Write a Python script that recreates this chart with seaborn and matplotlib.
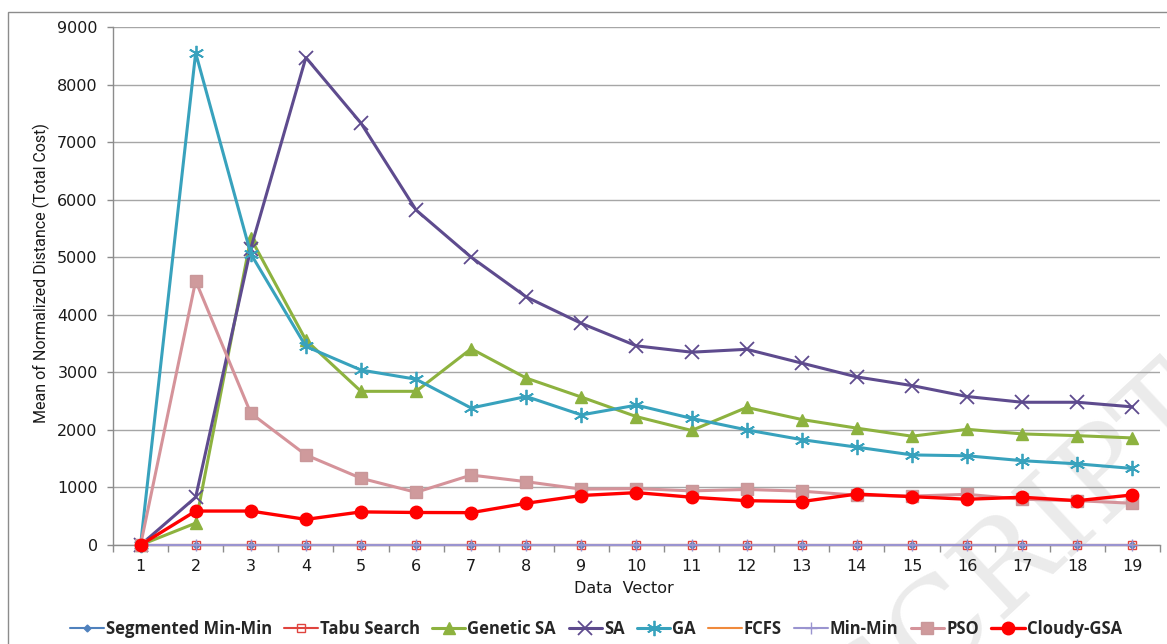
import matplotlib
matplotlib.use("Agg")
import matplotlib.pyplot as plt
import seaborn as sns
import pandas as pd
from matplotlib.patches import Rectangle
from matplotlib.ticker import MultipleLocator, FixedLocator

# --- data -------------------------------------------------------------
data_vector = list(range(1, 20))

segmented_min_min = [0] * 19
tabu_search = [0] * 19
genetic_sa = [0, 380, 5330, 3560, 2670, 2670, 3410, 2900, 2570, 2230, 1990,
              2390, 2180, 2030, 1890, 2010, 1930, 1900, 1860]
sa = [0, 830, 5150, 8470, 7330, 5820, 5000, 4310, 3850, 3460, 3350,
      3400, 3160, 2920, 2770, 2580, 2480, 2480, 2400]
ga = [0, 8550, 5060, 3450, 3040, 2880, 2380, 2580, 2260, 2430, 2200,
      2000, 1830, 1700, 1565, 1550, 1465, 1410, 1330]
fcfs = [0] * 19
min_min = [0] * 19
pso = [0, 4590, 2290, 1565, 1160, 915, 1215, 1100, 970, 980, 940,
       965, 935, 865, 850, 880, 795, 770, 725]
cloudy_gsa = [0, 590, 590, 445, 575, 565, 562, 725, 860, 910, 830,
              770, 755, 885, 840, 795, 830, 770, 870]

series_names = ["Segmented Min-Min", "Tabu Search", "Genetic SA", "SA", "GA",
                "FCFS", "Min-Min", "PSO", "Cloudy-GSA"]
series_values = [segmented_min_min, tabu_search, genetic_sa, sa, ga,
                 fcfs, min_min, pso, cloudy_gsa]

y_ticks = [0, 1000, 2000, 3000, 4000, 5000, 6000, 7000, 8000, 9000]

# --- styles ------------------------------------------------------------
styles = {
    "Segmented Min-Min": dict(color="#4F81BD", marker="D", markersize=3.5,
                              mfc="#4F81BD", mec="#4F81BD", mew=1.0, lw=1.5),
    "Tabu Search": dict(color="#E0443E", marker="s", markersize=6,
                        mfc="none", mec="#E0443E", mew=1.0, lw=1.5),
    "Genetic SA": dict(color="#8DB23F", marker="^", markersize=9,
                       mfc="#8DB23F", mec="#8DB23F", mew=1.0, lw=2.2),
    "SA": dict(color="#5E4B8E", marker="x", markersize=10,
               mfc="#5E4B8E", mec="#5E4B8E", mew=1.3, lw=2.2),
    "GA": dict(color="#38A2BD", marker=(6, 2, 0), markersize=11,
               mfc="#38A2BD", mec="#38A2BD", mew=1.3, lw=2.2),
    "FCFS": dict(color="#F08A3C", marker="_", markersize=7,
                 mfc="#F08A3C", mec="#F08A3C", mew=1.2, lw=1.5),
    "Min-Min": dict(color="#9A94D0", marker="+", markersize=8,
                    mfc="#9A94D0", mec="#9A94D0", mew=1.0, lw=1.5),
    "PSO": dict(color="#D5939A", marker="s", markersize=8,
                mfc="#CF9A9C", mec="#C9989A", mew=1.0, lw=2.2),
    "Cloudy-GSA": dict(color="#FF0000", marker="o", markersize=9,
                       mfc="#FF0000", mec="#FF0000", mew=1.0, lw=2.4),
}

sns.set_theme(style="white")
plt.rcParams["font.family"] = ["DejaVu Sans"]

fig = plt.figure(figsize=(11.67, 6.44), dpi=100)
ax = fig.add_axes([113 / 1167, 1 - 545 / 644, (1160 - 113) / 1167, (545 - 27) / 644])
ax.set_facecolor("none")

# faint diagonal watermark behind the plot
fig.text(1200 / 1167, 1 - 392 / 644, "ACCEPTED MANUSCRIPT", rotation=43,
         rotation_mode="anchor", ha="right", va="center", fontsize=88,
         family="DejaVu Serif", color="#EBEBEB", zorder=-5)

for i, (name, vals) in enumerate(zip(series_names, series_values)):
    df = pd.DataFrame({"Data Vector": data_vector, "value": vals})
    st = dict(styles[name])
    sns.lineplot(data=df, x="Data Vector", y="value", ax=ax, label=name,
                 color=st.pop("color"), linewidth=st.pop("lw"),
                 errorbar=None, zorder=3 + i, clip_on=False,
                 marker=st["marker"], markersize=st["markersize"],
                 markerfacecolor=st["mfc"], markeredgecolor=st["mec"],
                 markeredgewidth=st["mew"])

# axes cosmetics
ax.set_xlim(0.5, 19.5)
ax.set_ylim(0, 9000)
ax.yaxis.set_major_locator(FixedLocator(y_ticks))
ax.xaxis.set_major_locator(FixedLocator(data_vector))
ax.xaxis.set_minor_locator(MultipleLocator(1, offset=0.5))
ax.set_yticklabels([str(v) for v in y_ticks])
ax.grid(axis="y", color="#A6A6A6", linewidth=1.0)
ax.grid(axis="x", visible=False)
for side in ("top", "right"):
    ax.spines[side].set_visible(False)
for side in ("left", "bottom"):
    ax.spines[side].set_color("#8C8C8C")
    ax.spines[side].set_linewidth(1.0)

ax.tick_params(axis="y", which="major", direction="out", length=4, width=1,
               color="#8C8C8C", pad=7, labelsize=11.5, labelcolor="#1A1A1A", left=True)
ax.tick_params(axis="x", which="major", length=0, pad=10, labelsize=11.5,
               labelcolor="#1A1A1A", bottom=True)
ax.tick_params(axis="x", which="minor", direction="out", length=5, width=1,
               color="#8C8C8C", bottom=True)

ax.set_xlabel("Data  Vector", fontsize=11.5, color="#1A1A1A")
ax.xaxis.set_label_coords(0.488, -0.070)
ax.set_ylabel("Mean of Normalized Distance (Total Cost)", fontsize=11.5,
              family="Roboto", color="#1A1A1A", va="center")
ax.yaxis.set_label_coords(-0.068, 0.525)

# legend along the bottom
leg = ax.legend(loc="center", bbox_to_anchor=(596 / 1167, 1 - 629 / 644),
                bbox_transform=fig.transFigure, ncol=9, frameon=False,
                handlelength=2.0, handletextpad=0.12, columnspacing=0.75,
                borderpad=0.0,
                prop=dict(family="Open Sans", weight="bold", size=12))

# outer chart border
fig.patches.append(Rectangle((8 / 1167, -0.05), 1.2, 1 - 12 / 644 + 0.05,
                             transform=fig.transFigure, fill=False,
                             edgecolor="#8C8C8C", linewidth=1.0, zorder=-10))

fig.savefig("out.png", dpi=100)
